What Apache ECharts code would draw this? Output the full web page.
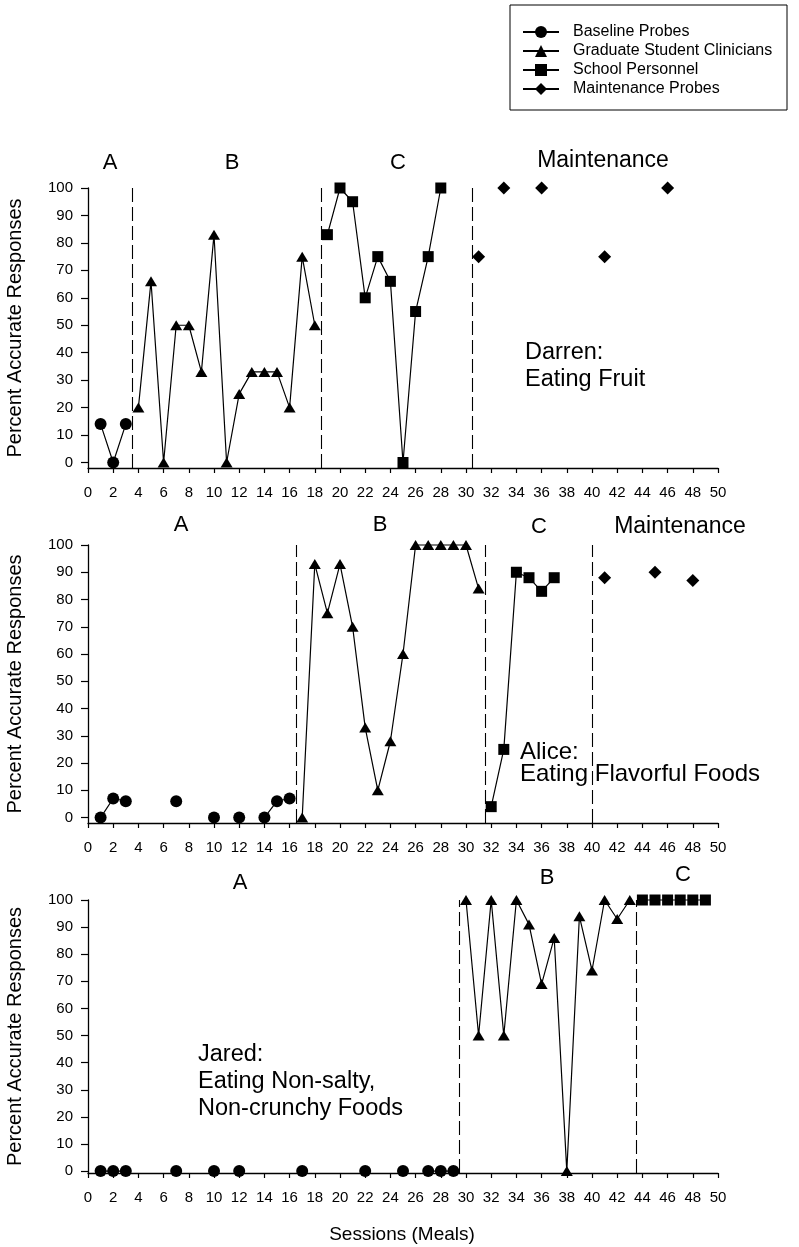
<!DOCTYPE html>
<html>
<head>
<meta charset="utf-8">
<script src="https://cdn.jsdelivr.net/npm/echarts@6/dist/echarts.min.js"></script>
<style>
html,body{margin:0;padding:0;background:#fff;}
#chart{width:799px;height:1247px;}
</style>
</head>
<body>
<div id="chart"></div>
<script>
// ---------------- DATA ----------------
const seriesNames = ['Baseline Probes', 'Graduate Student Clinicians', 'School Personnel', 'Maintenance Probes'];
const yTickValues = [0, 10, 20, 30, 40, 50, 60, 70, 80, 90, 100];
const xAxisTitle = 'Sessions (Meals)';
const yAxisTitle = 'Percent Accurate Responses';

// Darren
const darrenBaselineSessions = [1, 2, 3];
const darrenBaselineValues   = [14, 0, 14];
const darrenGradSessions = [4, 5, 6, 7, 8, 9, 10, 11, 12, 13, 14, 15, 16, 17, 18];
const darrenGradValues   = [20, 66, 0, 50, 50, 33, 83, 0, 25, 33, 33, 33, 20, 75, 50];
const darrenSchoolSessions = [19, 20, 21, 22, 23, 24, 25, 26, 27, 28];
const darrenSchoolValues   = [83, 100, 95, 60, 75, 66, 0, 55, 75, 100];
const darrenMaintSessions = [31, 33, 36, 41, 46];
const darrenMaintValues   = [75, 100, 100, 75, 100];
const darrenPhaseLines = [3.5, 18.5, 30.5];
const darrenPhaseLabels = ['A', 'B', 'C', 'Maintenance'];
const darrenNote = ['Darren:', 'Eating Fruit'];

// Alice
const aliceBaselineSessions = [1, 2, 3, 7, 10, 12, 14, 15, 16];
const aliceBaselineValues   = [0, 7, 6, 6, 0, 0, 0, 6, 7];
const aliceGradSessions = [17, 18, 19, 20, 21, 22, 23, 24, 25, 26, 27, 28, 29, 30, 31];
const aliceGradValues   = [0, 93, 75, 93, 70, 33, 10, 28, 60, 100, 100, 100, 100, 100, 84];
const aliceSchoolSessions = [32, 33, 34, 35, 36, 37];
const aliceSchoolValues   = [4, 25, 90, 88, 83, 88];
const aliceMaintSessions = [41, 45, 48];
const aliceMaintValues   = [88, 90, 87];
const alicePhaseLines = [16.5, 31.5, 40];
const alicePhaseLabels = ['A', 'B', 'C', 'Maintenance'];
const aliceNote = ['Alice:', 'Eating Flavorful Foods'];

// Jared
const jaredBaselineSessions = [1, 2, 3, 7, 10, 12, 17, 22, 25, 27, 28, 29];
const jaredBaselineValues   = [0, 0, 0, 0, 0, 0, 0, 0, 0, 0, 0, 0];
const jaredGradSessions = [30, 31, 32, 33, 34, 35, 36, 37, 38, 39, 40, 41, 42, 43];
const jaredGradValues   = [100, 50, 100, 50, 100, 91, 69, 86, 0, 94, 74, 100, 93, 100];
const jaredSchoolSessions = [44, 45, 46, 47, 48, 49];
const jaredSchoolValues   = [100, 100, 100, 100, 100, 100];
const jaredPhaseLines = [29.5, 43.5];
const jaredPhaseLabels = ['A', 'B', 'C'];
const jaredNote = ['Jared:', 'Eating Non-salty,', 'Non-crunchy Foods'];

// ---------------- LAYOUT / STYLE ----------------
const FONT = '"Liberation Sans", Arial, Helvetica, sans-serif';
const BLACK = '#000';
const gridLeft = 88, gridWidth = 630;
const panels = [
  { top: 188, height: 280, yMin: -2 },
  { top: 545, height: 278, yMin: -2 },
  { top: 900, height: 273, yMin: -0.7 }
];
const symbolStyles = [
  { symbol: 'circle', size: 12 },
  { symbol: 'triangle', size: [12, 10] },
  { symbol: 'rect', size: 11 },
  { symbol: 'diamond', size: 13 }
];

// break the line wherever sessions are not consecutive
function toData(sessions, values) {
  const out = [];
  for (let i = 0; i < sessions.length; i++) {
    if (i > 0 && sessions[i] - sessions[i - 1] > 1) {
      out.push([(sessions[i] + sessions[i - 1]) / 2, '-']);
    }
    out.push([sessions[i], values[i]]);
  }
  return out;
}

const panelData = [
  { sets: [[darrenBaselineSessions, darrenBaselineValues], [darrenGradSessions, darrenGradValues], [darrenSchoolSessions, darrenSchoolValues], [darrenMaintSessions, darrenMaintValues]], phases: darrenPhaseLines },
  { sets: [[aliceBaselineSessions, aliceBaselineValues], [aliceGradSessions, aliceGradValues], [aliceSchoolSessions, aliceSchoolValues], [aliceMaintSessions, aliceMaintValues]], phases: alicePhaseLines },
  { sets: [[jaredBaselineSessions, jaredBaselineValues], [jaredGradSessions, jaredGradValues], [jaredSchoolSessions, jaredSchoolValues]], phases: jaredPhaseLines }
];

const grids = [], xAxes = [], yAxes = [], series = [];
panels.forEach((p, i) => {
  grids.push({ left: gridLeft, width: gridWidth, top: p.top, height: p.height, outerBoundsMode: 'none', containLabel: false });
  xAxes.push({
    type: 'value', gridIndex: i, min: 0, max: 50, interval: 2,
    axisLine: { show: true, onZero: false, lineStyle: { color: BLACK, width: 1.3 } },
    axisTick: { show: true, length: 5, lineStyle: { color: BLACK, width: 1.2 } },
    axisLabel: { show: true, color: BLACK, fontSize: 15, fontFamily: FONT, margin: 17 },
    splitLine: { show: false }
  });
  yAxes.push({
    type: 'value', gridIndex: i, min: p.yMin, max: 100,
    axisLine: { show: true, onZero: false, lineStyle: { color: BLACK, width: 1.3 } },
    axisTick: { show: true, length: 7, customValues: yTickValues, lineStyle: { color: BLACK, width: 1.2 } },
    axisLabel: { show: true, customValues: yTickValues, color: BLACK, fontSize: 15, fontFamily: FONT, margin: 15 },
    splitLine: { show: false }
  });
  const pd = panelData[i];
  pd.sets.forEach((set, k) => {
    const s = {
      type: 'line', name: seriesNames[k], xAxisIndex: i, yAxisIndex: i,
      data: toData(set[0], set[1]),
      symbol: symbolStyles[k].symbol, symbolSize: symbolStyles[k].size,
      showSymbol: true, showAllSymbol: true, connectNulls: false, clip: false,
      lineStyle: { color: BLACK, width: 1.2 },
      itemStyle: { color: BLACK, borderWidth: 0 },
      emphasis: { disabled: true }, silent: true, animation: false, z: 3
    };
    if (k === 0) {
      s.markLine = {
        silent: true, symbol: ['none', 'none'], animation: false,
        label: { show: false },
        lineStyle: { color: BLACK, width: 1.1, type: [14, 5] },
        emphasis: { disabled: true },
        data: pd.phases.map(v => ({ xAxis: v }))
      };
    }
    series.push(s);
  });
});

// text annotations
const graphics = [];
function addText(text, x, y, size, align) {
  graphics.push({ type: 'text', x: x, y: y, silent: true,
    style: { text: text, fontSize: size, fontFamily: FONT, fill: BLACK, align: align || 'center', verticalAlign: 'middle' } });
}
// phase labels
const phaseLabelPos = [
  [[110, 163], [232, 163], [398, 163], [603, 161]],
  [[181, 525], [380, 525], [539, 527], [680, 527]],
  [[240, 883], [547, 878], [683, 875]]
];
[darrenPhaseLabels, alicePhaseLabels, jaredPhaseLabels].forEach((labels, i) => {
  labels.forEach((t, j) => addText(t, phaseLabelPos[i][j][0], phaseLabelPos[i][j][1], t.length > 1 ? 23 : 22));
});
// participant notes
darrenNote.forEach((t, j) => addText(t, 525, 353 + j * 27, 23.5, 'left'));
aliceNote.forEach((t, j) => addText(t, 520, 752 + j * 22, 24, 'left'));
jaredNote.forEach((t, j) => addText(t, 198, 1055 + j * 27, 23.5, 'left'));
// axis titles
addText(xAxisTitle, 402, 1235, 19);
[0, 1, 2].forEach(i => {
  const p = panels[i];
  graphics.push({ type: 'text', x: 15.5, y: p.top + p.height / 2, rotation: Math.PI / 2, silent: true,
    style: { text: yAxisTitle, fontSize: 20, fontFamily: FONT, fill: BLACK, align: 'center', verticalAlign: 'middle' } });
});
// legend frame
graphics.push({ type: 'rect', shape: { x: 510, y: 5, width: 277, height: 105 }, silent: true, z: -1,
  style: { fill: 'none', stroke: BLACK, lineWidth: 1 } });

const chart = echarts.init(document.getElementById('chart'), null, { renderer: 'canvas' });
chart.setOption({
  backgroundColor: '#fff',
  animation: false,
  textStyle: { fontFamily: FONT },
  legend: {
    data: seriesNames, orient: 'vertical', left: 522, top: 24, padding: 0,
    itemWidth: 36, itemHeight: 15, itemGap: 3, selectedMode: false,
    textStyle: { fontSize: 16, color: BLACK, fontFamily: FONT, padding: [0, 0, 0, 9] }
  },
  grid: grids,
  xAxis: xAxes,
  yAxis: yAxes,
  series: series,
  graphic: graphics
});
</script>
</body>
</html>
